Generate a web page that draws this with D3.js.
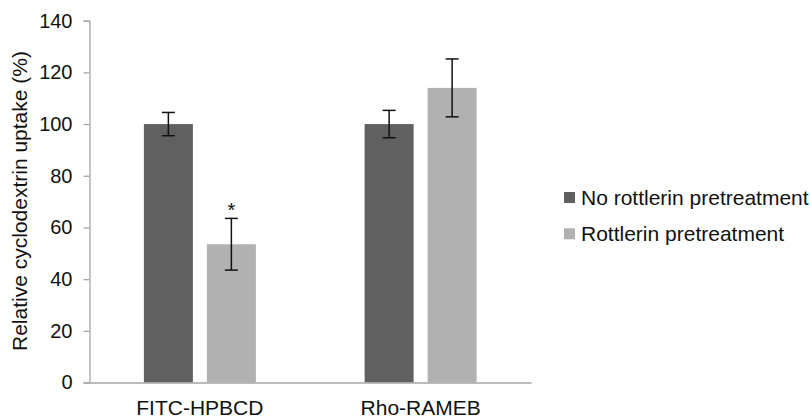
<!DOCTYPE html>
<html>
<head>
<meta charset="utf-8">
<script src="https://cdn.jsdelivr.net/npm/d3@7"></script>
<style>
  body { margin: 0; background: #fff; }
  svg { font-family: "Liberation Sans", Arial, sans-serif; }
</style>
</head>
<body>
<div id="chart"></div>
<script>
// data
const categories = ["FITC-HPBCD", "Rho-RAMEB"];
const seriesNames = ["No rottlerin pretreatment", "Rottlerin pretreatment"];
const noRottlerin = [100, 100];
const noRottlerinErr = [4.5, 5.3];
const rottlerin = [53.5, 114];
const rottlerinErr = [10, 11.2];
const significant = [false, true, false, false]; // per bar, star above error bar
const yTicks = [0, 20, 40, 60, 80, 100, 120, 140];

const colors = d3.scaleOrdinal().domain(seriesNames).range(["#606060", "#b1b1b1"]);

const W = 811, H = 419;
const plot = {left: 89.5, right: 531, top: 20.7, bottom: 382.5};

const svg = d3.select("#chart").append("svg")
    .attr("width", W)
    .attr("height", H);

const x0 = d3.scaleBand()
    .domain(categories)
    .range([plot.left, plot.right])
    .paddingInner(0.4926)
    .paddingOuter(0.2463);

const x1 = d3.scaleBand()
    .domain(seriesNames)
    .range([0, x0.bandwidth()])
    .paddingInner(0.222);

const y = d3.scaleLinear()
    .domain([0, 140])
    .range([plot.bottom, plot.top]);

// build rows for every bar
const rows = [];
categories.forEach((c, i) => {
    rows.push({cat: c, series: seriesNames[0], value: noRottlerin[i], err: noRottlerinErr[i]});
    rows.push({cat: c, series: seriesNames[1], value: rottlerin[i], err: rottlerinErr[i]});
});
rows.forEach((r, i) => r.star = significant[i]);

// y axis
const yAxis = svg.append("g")
    .attr("transform", "translate(" + plot.left + ",0)")
    .call(d3.axisLeft(y).tickValues(yTicks).tickSize(6).tickPadding(11));
yAxis.selectAll("line, path").attr("stroke", "#a6a6a6").attr("stroke-width", 1.3);
yAxis.selectAll("text")
    .attr("fill", "#111")
    .style("font-size", "20px");

// bars
svg.append("g").selectAll("rect")
    .data(rows)
    .join("rect")
    .attr("x", d => x0(d.cat) + x1(d.series))
    .attr("y", d => y(d.value))
    .attr("width", x1.bandwidth())
    .attr("height", d => y(0) - y(d.value))
    .attr("fill", d => colors(d.series));

// x axis (drawn over the bars' bottoms)
const xAxis = svg.append("g")
    .attr("transform", "translate(0," + plot.bottom + ")")
    .call(d3.axisBottom(x0).tickSize(0).tickPadding(17.5));
xAxis.select("path").attr("stroke", "#a6a6a6").attr("stroke-width", 1.3);
xAxis.selectAll("text")
    .attr("fill", "#111")
    .style("font-size", "21px");

// error bars
const cap = 6.5;
const errG = svg.append("g").attr("stroke", "#111").attr("stroke-width", 1.5);
rows.forEach(d => {
    const cx = x0(d.cat) + x1(d.series) + x1.bandwidth() / 2;
    const yHi = y(d.value + d.err), yLo = y(d.value - d.err);
    errG.append("line").attr("x1", cx).attr("x2", cx).attr("y1", yHi).attr("y2", yLo);
    errG.append("line").attr("x1", cx - cap).attr("x2", cx + cap).attr("y1", yHi).attr("y2", yHi);
    errG.append("line").attr("x1", cx - cap).attr("x2", cx + cap).attr("y1", yLo).attr("y2", yLo);
});

// significance star
svg.append("g").selectAll("text")
    .data(rows.filter(d => d.star))
    .join("text")
    .attr("x", d => x0(d.cat) + x1(d.series) + x1.bandwidth() / 2)
    .attr("y", d => y(d.value + d.err) - 1.5)
    .attr("text-anchor", "middle")
    .attr("fill", "#111")
    .style("font-size", "20px")
    .text("*");

// y axis title
svg.append("text")
    .attr("transform", "translate(26.5,201) rotate(-90)")
    .attr("text-anchor", "middle")
    .attr("fill", "#111")
    .style("font-size", "21px")
    .text("Relative cyclodextrin uptake (%)");

// legend
const legend = svg.append("g").attr("transform", "translate(564,192)");
legend.selectAll("rect")
    .data(seriesNames)
    .join("rect")
    .attr("x", 0)
    .attr("y", (d, i) => i * 36.3)
    .attr("width", 11)
    .attr("height", 11)
    .attr("fill", d => colors(d));
legend.selectAll("text")
    .data(seriesNames)
    .join("text")
    .attr("x", 17)
    .attr("y", (d, i) => i * 36.3 + 13)
    .attr("fill", "#111")
    .style("font-size", "21px")
    .text(d => d);
</script>
</body>
</html>
